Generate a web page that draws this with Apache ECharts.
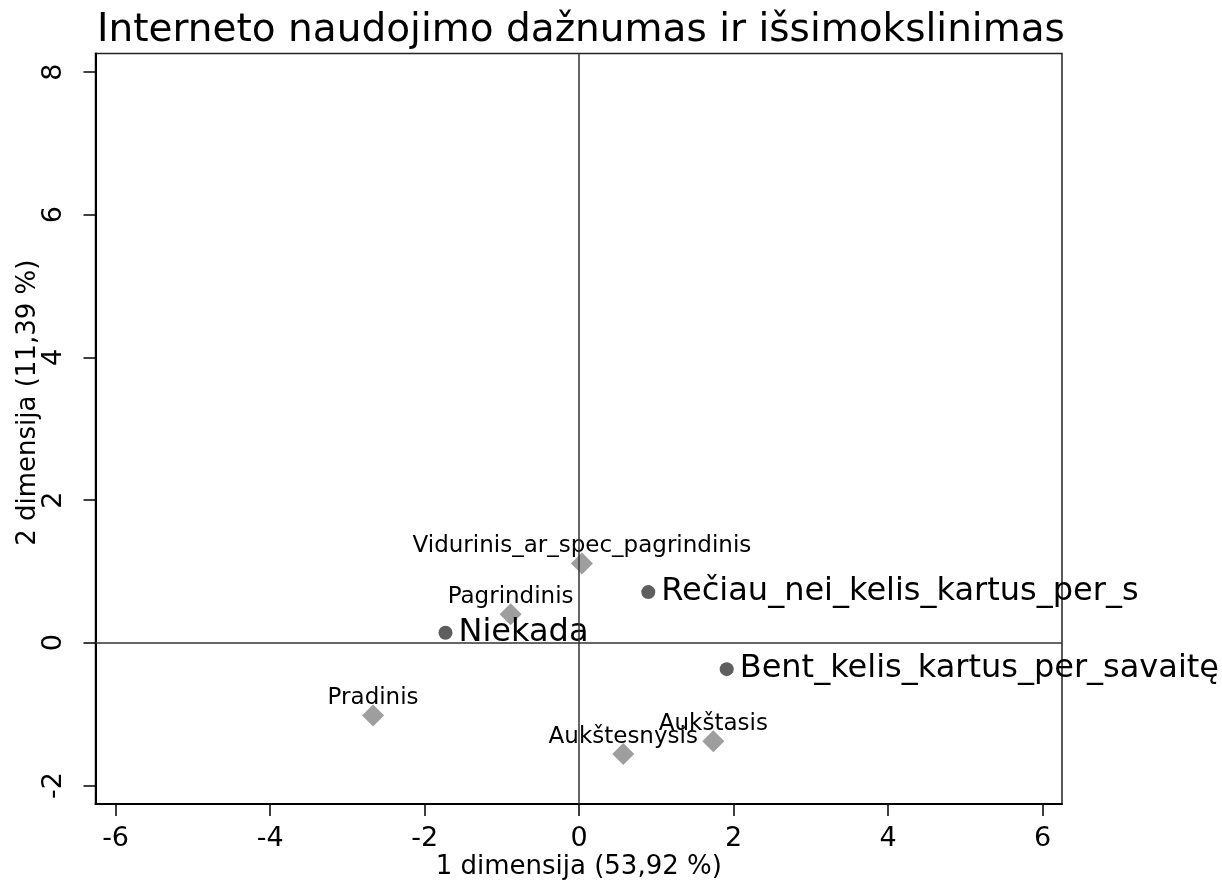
<!DOCTYPE html>
<html>
<head>
<meta charset="utf-8">
<script src="https://cdn.jsdelivr.net/npm/echarts@6/dist/echarts.min.js"></script>
<style>
html,body{margin:0;padding:0;background:#fff;}
#chart{width:1222px;height:880px;}
</style>
</head>
<body>
<div id="chart"></div>
<script>
// Row points (Interneto naudojimo dažnumas)
const rowCategories = ['Niekada', 'Rečiau_nei_kelis_kartus_per_s', 'Bent_kelis_kartus_per_savaitę'];
const rowX = [-1.73, 0.895, 1.91];
const rowY = [0.14, 0.71, -0.37];
// Column points (išsimokslinimas)
const colCategories = ['Pradinis', 'Pagrindinis', 'Vidurinis_ar_spec_pagrindinis', 'Aukštesnysis', 'Aukštasis'];
const colX = [-2.667, -0.887, 0.036, 0.571, 1.737];
const colY = [-1.02, 0.40, 1.11, -1.56, -1.38];
// Ticks
const xTicks = [-6, -4, -2, 0, 2, 4, 6];
const yTicks = [-2, 0, 2, 4, 6, 8];
const titleText = 'Interneto naudojimo dažnumas ir išsimokslinimas';
const xTitle = '1 dimensija (53,92 %)';
const yTitle = '2 dimensija (11,39 %)';

const FONT = 'DejaVu Sans';
const chart = echarts.init(document.getElementById('chart'), null, {renderer: 'canvas'});

const rowData = rowCategories.map((n, i) => ({name: n, value: [rowX[i], rowY[i]]}));
const colData = colCategories.map((n, i) => ({name: n, value: [colX[i], colY[i]]}));

chart.setOption({
  animation: false,
  backgroundColor: '#fff',
  title: {
    text: titleText,
    left: 92,
    top: 6,
    textStyle: {fontFamily: FONT, fontSize: 39, fontWeight: 'normal', color: '#000'}
  },
  grid: {
    left: 95.5, right: 160, top: 53.5, bottom: 76,
    containLabel: false, outerBoundsMode: 'none',
    show: true, borderColor: '#222', borderWidth: 1.5, backgroundColor: '#fff'
  },
  xAxis: {
    type: 'value', min: -6.26, max: 6.25,
    name: xTitle, nameLocation: 'middle', nameGap: 50, nameMoveOverlap: false,
    nameTextStyle: {fontFamily: FONT, fontSize: 26, color: '#000'},
    axisLine: {show: true, onZero: false, lineStyle: {color: '#000', width: 2}},
    axisTick: {show: true, inside: false, length: 12, customValues: xTicks, lineStyle: {color: '#000', width: 1.5}},
    axisLabel: {show: true, customValues: xTicks, margin: 21, fontFamily: FONT, fontSize: 27, color: '#000'},
    splitLine: {show: false}
  },
  yAxis: {
    type: 'value', min: -2.26, max: 8.26,
    name: yTitle, nameLocation: 'middle', nameGap: 54, nameRotate: 90, nameMoveOverlap: false,
    nameTextStyle: {fontFamily: FONT, fontSize: 26, color: '#000', padding: [0, 0, 0, 52]},
    axisLine: {show: true, onZero: false, lineStyle: {color: '#000', width: 2}},
    axisTick: {show: true, inside: false, length: 12, customValues: yTicks, lineStyle: {color: '#000', width: 1.5}},
    axisLabel: {show: true, customValues: yTicks, rotate: 90, margin: 28, fontFamily: FONT, fontSize: 27, color: '#000'},
    splitLine: {show: false}
  },
  series: [
    {
      type: 'scatter',
      name: 'zero',
      data: [],
      silent: true,
      markLine: {
        silent: true, symbol: 'none', animation: false,
        label: {show: false},
        lineStyle: {color: '#333', width: 1.5, type: 'solid', opacity: 1},
        data: [{xAxis: 0}, {yAxis: 0}]
      }
    },
    {
      type: 'scatter',
      name: 'išsimokslinimas',
      symbol: 'diamond',
      symbolSize: 22,
      itemStyle: {color: '#9e9e9e', opacity: 1},
      data: colData,
      label: {
        show: true, position: 'top', distance: -5,
        formatter: p => p.name,
        fontFamily: FONT, fontSize: 23, color: '#000'
      }
    },
    {
      type: 'scatter',
      name: 'dažnumas',
      symbol: 'circle',
      symbolSize: 14,
      itemStyle: {color: '#5e5e5e', opacity: 1},
      data: rowData,
      label: {
        show: true, position: 'right', distance: 6,
        formatter: p => p.name,
        fontFamily: FONT, fontSize: 32, color: '#000'
      }
    }
  ]
});
</script>
</body>
</html>
